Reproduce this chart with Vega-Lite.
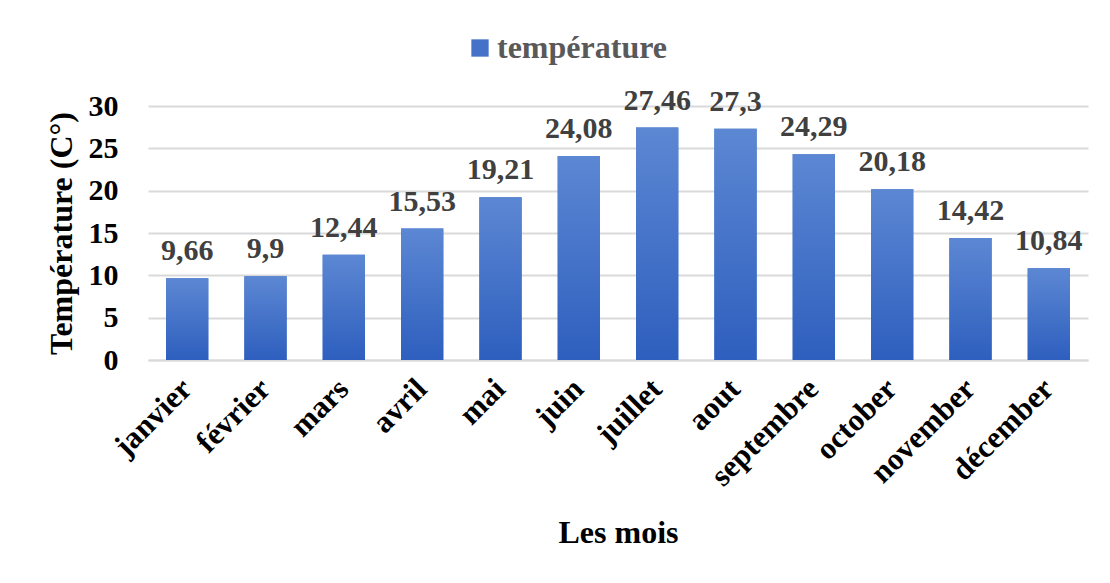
{
  "$schema": "https://vega.github.io/schema/vega-lite/v6.json",
  "width": 940,
  "height": 254,
  "autosize": "none",
  "padding": {"left": 148, "top": 106, "right": 22, "bottom": 223},
  "background": "white",
  "config": {
    "font": "Liberation Serif",
    "locale": {"number": {"decimal": ",", "thousands": " ", "grouping": [3], "currency": ["", " €"]}},
    "view": {"stroke": null}
  },
  "data": {"values": [
    {"mois": "janvier", "temp": 9.66},
    {"mois": "février", "temp": 9.9},
    {"mois": "mars", "temp": 12.44},
    {"mois": "avril", "temp": 15.53},
    {"mois": "mai", "temp": 19.21},
    {"mois": "juin", "temp": 24.08},
    {"mois": "juillet", "temp": 27.46},
    {"mois": "aout", "temp": 27.3},
    {"mois": "septembre", "temp": 24.29},
    {"mois": "october", "temp": 20.18},
    {"mois": "november", "temp": 14.42},
    {"mois": "décember", "temp": 10.84}
  ]},
  "encoding": {
    "x": {"field": "mois", "type": "nominal", "sort": null,
      "scale": {"paddingInner": 0.46, "paddingOuter": 0.23},
      "axis": {"title": "Les mois", "titleFont": "Liberation Serif", "titleFontSize": 32, "titleFontWeight": "bold", "titleColor": "black", "titlePadding": 26,
        "labelAngle": -45, "labelAlign": "right", "labelBaseline": "middle", "labelFontSize": 31, "labelFontWeight": "bold", "labelColor": "black", "labelPadding": 24,
        "ticks": false, "domain": true, "domainColor": "#d9d9d9", "domainWidth": 2}},
    "y": {"field": "temp", "type": "quantitative", "scale": {"domain": [0, 30]},
      "axis": {"title": "Température (C°)", "titleFontSize": 32, "titleFontWeight": "bold", "titleColor": "black", "titlePadding": 10,
        "values": [0, 5, 10, 15, 20, 25, 30], "labelFontSize": 30, "labelFontWeight": "bold", "labelColor": "black", "labelPadding": 30,
        "ticks": false, "domain": false, "grid": true, "gridColor": "#d9d9d9", "gridWidth": 2}}
  },
  "layer": [
    {"mark": {"type": "bar"},
      "encoding": {"color": {"datum": "température", "type": "nominal", "scale": {"range": ["#4472c8"]},
        "legend": {"title": null, "orient": "none", "legendX": 316, "legendY": -74, "symbolType": "square", "symbolSize": 300, "symbolStrokeWidth": 0,
          "labelFontSize": 32, "labelFontWeight": "bold", "labelColor": "#595959", "labelFont": "Liberation Serif", "labelOffset": 1, "labelLimit": 400}}}},
    {"mark": {"type": "bar", "color": {"gradient": "linear", "x1": 0, "y1": 0, "x2": 0, "y2": 1,
      "stops": [{"offset": 0, "color": "#5c87d3"}, {"offset": 1, "color": "#2e5fbe"}]}}},
    {"mark": {"type": "text", "baseline": "bottom", "dy": -12, "fontSize": 30, "fontWeight": "bold", "color": "#404040"},
      "encoding": {"text": {"field": "temp", "type": "quantitative", "format": "~g"}}}
  ]
}
